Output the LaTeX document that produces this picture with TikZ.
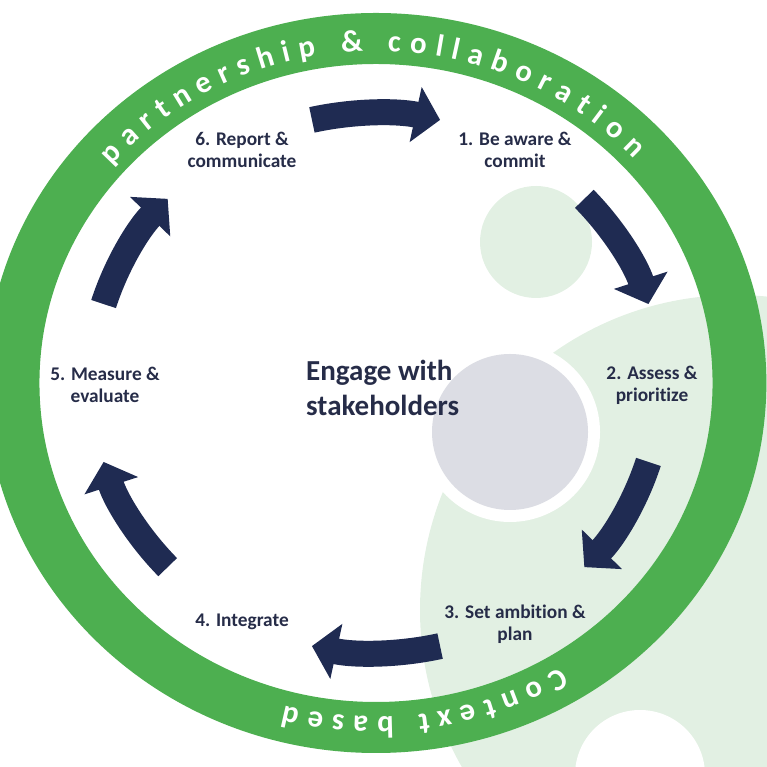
\documentclass[tikz,border=0pt]{standalone}
\usepackage{fontspec}
\setmainfont{Carlito}[Ligatures=NoCommon]
\usepackage{xcolor}
\usepackage{tikz}
\usetikzlibrary{arrows.meta, decorations.text}

\definecolor{ringgreen}{RGB}{77,175,80}
\definecolor{palegreen}{RGB}{226,240,227}
\definecolor{hubgray}{RGB}{220,221,228}
\definecolor{arrownavy}{RGB}{31,43,82}
\definecolor{labelnavy}{RGB}{38,44,72}
\newcommand{\ringfont}{\fontsize{17.5}{17.5}\selectfont\bfseries}

\begin{document}
\begin{tikzpicture}[
                % Define styles
                stage/.style={text=labelnavy, align=center, font=\fontsize{11}{12.5}\selectfont\bfseries},
                hub/.style={text=labelnavy, align=left, anchor=west, font=\fontsize{16.5}{20}\selectfont\bfseries},
                cycle/.style={draw=arrownavy, line width=5.2mm, -{Triangle[length=5mm, width=11mm]}},
                ringtext/.style={decorate, decoration={text along path, text color=white, text align=fit to path}}
            ]

            \useasboundingbox (0,0) rectangle (15.34,15.34);

            % --- Background shapes ---
            \begin{scope}
                \clip (0,0) rectangle (15.34,15.34);
                \fill[palegreen] (14.70,3.14) circle (6.30);
                \fill[white] (12.80,-0.16) circle (1.30);
            \end{scope}
            \fill[palegreen] (10.72,10.50) circle (1.12);
            \fill[white] (10.20,6.70) circle (1.80);
            \fill[hubgray] (10.20,6.70) circle (1.56);

            % --- Ring and cycle ---
            \begin{scope}[shift={(7.52,7.68)}, xscale=1.055]
                \fill[ringgreen, even odd rule] (0,0) circle (7.40) (0,0) circle (6.38);
                \path[ringtext, decoration={text={|\ringfont|partnership {\&} collaboration}}]
                    (139:6.64) arc[start angle=139, end angle=42.5, radius=6.64];
                \path[ringtext, decoration={text={|\ringfont|Context based}}]
                    (-58.5:6.68) arc[start angle=-58.5, end angle=-105, radius=6.68];

                % Arrows
                \foreach \a in {0,...,5}
                    \draw[cycle] ({103-60*\a}:5.40) arc[start angle={103-60*\a}, end angle={77-60*\a}, radius=5.40];
            \end{scope}

            % --- Nodes ---
            \node[stage] (s1) at (10.30,12.34) {1. Be aware \&\\commit};
            \node[stage] (s2) at (13.04,7.64) {2. Assess \&\\prioritize};
            \node[stage] (s3) at (10.30,2.86) {3. Set ambition \&\\plan};
            \node[stage] (s4) at (4.84,2.90) {4. Integrate};
            \node[stage] (s5) at (2.10,7.64) {5. Measure \&\\evaluate};
            \node[stage] (s6) at (4.84,12.34) {6. Report \&\\communicate};

            \node[hub] (hub) at (6.00,7.58) {Engage with\\stakeholders};

        \end{tikzpicture}
\end{document}
